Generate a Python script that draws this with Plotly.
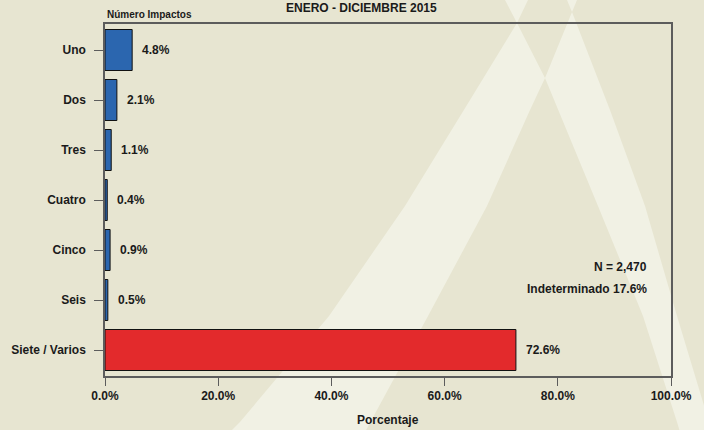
import plotly.graph_objects as go

# data
categories = ["Uno", "Dos", "Tres", "Cuatro", "Cinco", "Seis", "Siete / Varios"]
percentages = [4.8, 2.1, 1.1, 0.4, 0.9, 0.5, 72.6]
bar_colors = ["#2B66AF"] * 6 + ["#E32A2C"]
x_ticks = [0, 20, 40, 60, 80, 100]
total_n = 2470
indeterminado = 17.6

BG = "#E7E5D1"
STRIPE = "#F1F1E4"
FONT = "Liberation Sans, Arial, sans-serif"

# plot area in pixels (figure is 704x430)
W, H = 704, 430
L, R, T, B = 105, 671, 24, 376


def px(x, y):
    """pixel position -> paper coords"""
    return (x - L) / (R - L), (B - y) / (B - T)


def path(points):
    pts = [px(x, y) for x, y in points]
    return "M " + " L ".join(f"{a:.4f},{b:.4f}" for a, b in pts) + " Z"


# background "X" stripes (two hourglass cones, overlap knocked out)
cone1 = [(505, 0), (528, 0), (517, 23), (470, 100), (405, 206), (329, 316), (240, 422),
         (230, 432), (680, 432), (677, 422), (643, 316), (598, 206), (545, 78), (517, 23)]
cone2 = [(567, 0), (577, 0), (572, 12), (545, 78), (530, 110), (487, 206), (428, 316),
         (365, 432), (712, 432), (677, 316), (645, 206), (610, 110), (572, 12)]
overlap = [(545, 78), (530, 110), (487, 206), (428, 316), (365, 432), (680, 432),
           (677, 422), (643, 316), (598, 206)]

shapes = []
for pts, col in [(cone1, STRIPE), (cone2, STRIPE), (overlap, BG)]:
    shapes.append(dict(type="path", xref="paper", yref="paper", path=path(pts),
                       fillcolor=col, line=dict(width=0), layer="below"))

fig = go.Figure()
fig.add_trace(go.Bar(
    x=percentages,
    y=categories,
    orientation="h",
    width=0.82,
    marker=dict(color=bar_colors, line=dict(color="#111111", width=1)),
    hoverinfo="skip",
))

annotations = []
for cat, val in zip(categories, percentages):
    annotations.append(dict(x=val, y=cat, xref="x", yref="y", text=f"{val:.1f}%",
                            showarrow=False, xanchor="left", xshift=8,
                            font=dict(size=12, color="#1a1a1a", family=FONT, weight="bold")))

def note(text, x, y, xanchor="center", size=12):
    annotations.append(dict(text=text, x=x, y=y, xref="paper", yref="paper", showarrow=False,
                            xanchor=xanchor, yanchor="middle",
                            font=dict(size=size, color="#1a1a1a", family=FONT, weight="bold")))

note("ENERO - DICIEMBRE 2015", *px(361, 8))
note("Número Impactos", *px(105, 15), xanchor="left", size=10)
note("Porcentaje", *px(388, 420))
note(f"N = {total_n:,}", *px(649, 267), xanchor="right")
note(f"Indeterminado {indeterminado:.1f}%", *px(649, 289), xanchor="right")

fig.update_layout(
    width=W, height=H,
    margin=dict(l=L, r=W - R, t=T, b=H - B, pad=0),
    paper_bgcolor=BG,
    plot_bgcolor="rgba(0,0,0,0)",
    showlegend=False,
    shapes=shapes,
    annotations=annotations,
    font=dict(family=FONT, color="#1a1a1a"),
    xaxis=dict(
        range=[0, 100], tickvals=x_ticks, ticktext=[f"{v:.1f}%" for v in x_ticks],
        showgrid=False, zeroline=False, showline=True, mirror=True,
        linecolor="#5c5c5c", linewidth=1.5,
        ticks="outside", ticklen=8, tickcolor="#5c5c5c", tickwidth=1,
        tickfont=dict(size=12, family=FONT, weight="bold"),
    ),
    yaxis=dict(
        type="category", categoryorder="array", categoryarray=categories,
        range=[6.52, -0.52], autorange=False,
        showgrid=False, zeroline=False, showline=True, mirror=True,
        linecolor="#5c5c5c", linewidth=1.5,
        ticks="outside", ticklen=9, tickcolor="#5c5c5c", tickwidth=1,
        ticklabelstandoff=6,
        tickfont=dict(size=12, family=FONT, weight="bold"),
    ),
)

# page body has a default 8px margin; drop it so the figure fills the window
fig.write_html("out.html", config={"displayModeBar": False},
               post_script="document.body.style.margin='0';")
